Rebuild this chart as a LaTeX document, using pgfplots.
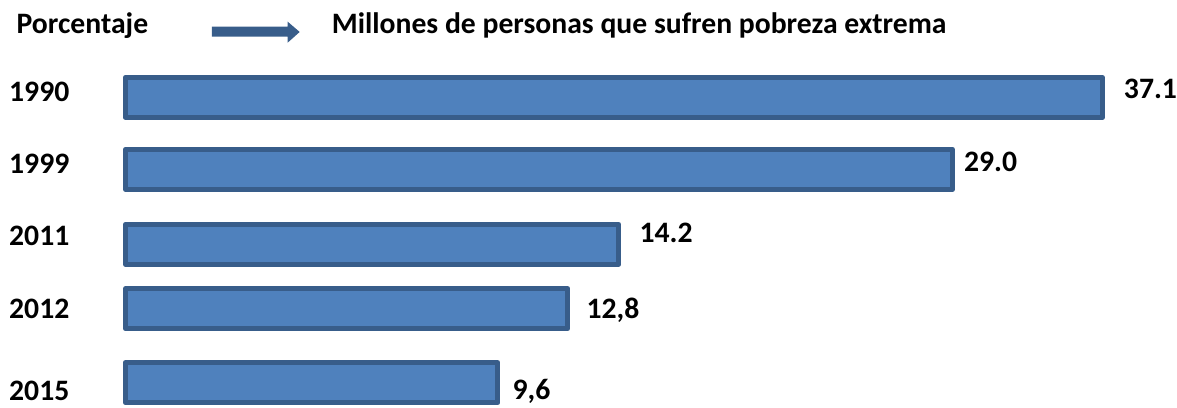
\documentclass[border=0pt]{standalone}
\usepackage{fontspec}
\setmainfont{Carlito}
\usepackage{pgfplots}
\pgfplotsset{compat=1.18}
\usepackage{pgfplotstable}
\definecolor{barfill}{HTML}{4F81BD}
\definecolor{baredge}{HTML}{385D8A}

% bar centre (y, px from top) and drawn bar length
\pgfplotstableread{
y len
97.5 978
169.5 828
244.5 494
309 443
383 373
}\bars
% value labels: position and text
\pgfplotstableread{
x y label
999.5 99 37.1
839.5 172 29.0
514.5 243 14.2
461.5 319 12,8
387.5 400 9,6
}\labels

\begin{document}
\begin{tikzpicture}
\begin{axis}[
  scale only axis, width=1177pt, height=408pt,
  xmin=-125.5, xmax=1051.5, ymin=0, ymax=408, y dir=reverse,
  axis line style={draw=none}, tick style={draw=none}, xtick=\empty,
  ytick={101.5,174,246,319,401}, yticklabels={1990,1999,2011,2012,2015},
  yticklabel style={anchor=base west, inner sep=0pt, xshift=9pt,
    font=\fontsize{29.7}{34}\selectfont\bfseries},
  clip=false,
]
\path (rel axis cs:0,0) rectangle (rel axis cs:1,1);
\addplot[xbar, bar width=40, bar shift=0pt, fill=barfill, draw=baredge,
  line width=5pt, line join=round] table[x=len,y=y]{\bars};
\addplot[only marks, mark=none, point meta=explicit symbolic,
  nodes near coords, nodes near coords align={anchor=base west},
  every node near coord/.append style={inner sep=0pt, anchor=base west,
    font=\fontsize{29.7}{34}\selectfont\bfseries}]
  table[x=x,y=y,meta=label]{\labels};
\node[anchor=base west, inner sep=0pt, font=\fontsize{29.7}{34}\selectfont\bfseries]
  at (axis cs:-109,34) {Porcentaje};
\node[anchor=base west, inner sep=0pt, font=\fontsize{29.7}{34}\selectfont\bfseries]
  at (axis cs:206.5,34) {Millones de personas que sufren pobreza extrema};
\fill[baredge] (axis cs:86.5,26.7) -- (axis cs:162.5,26.7) -- (axis cs:162.5,21.7)
  -- (axis cs:174.5,32) -- (axis cs:162.5,42.7) -- (axis cs:162.5,36.7)
  -- (axis cs:86.5,36.7) -- cycle;
\end{axis}
\end{tikzpicture}
\end{document}
